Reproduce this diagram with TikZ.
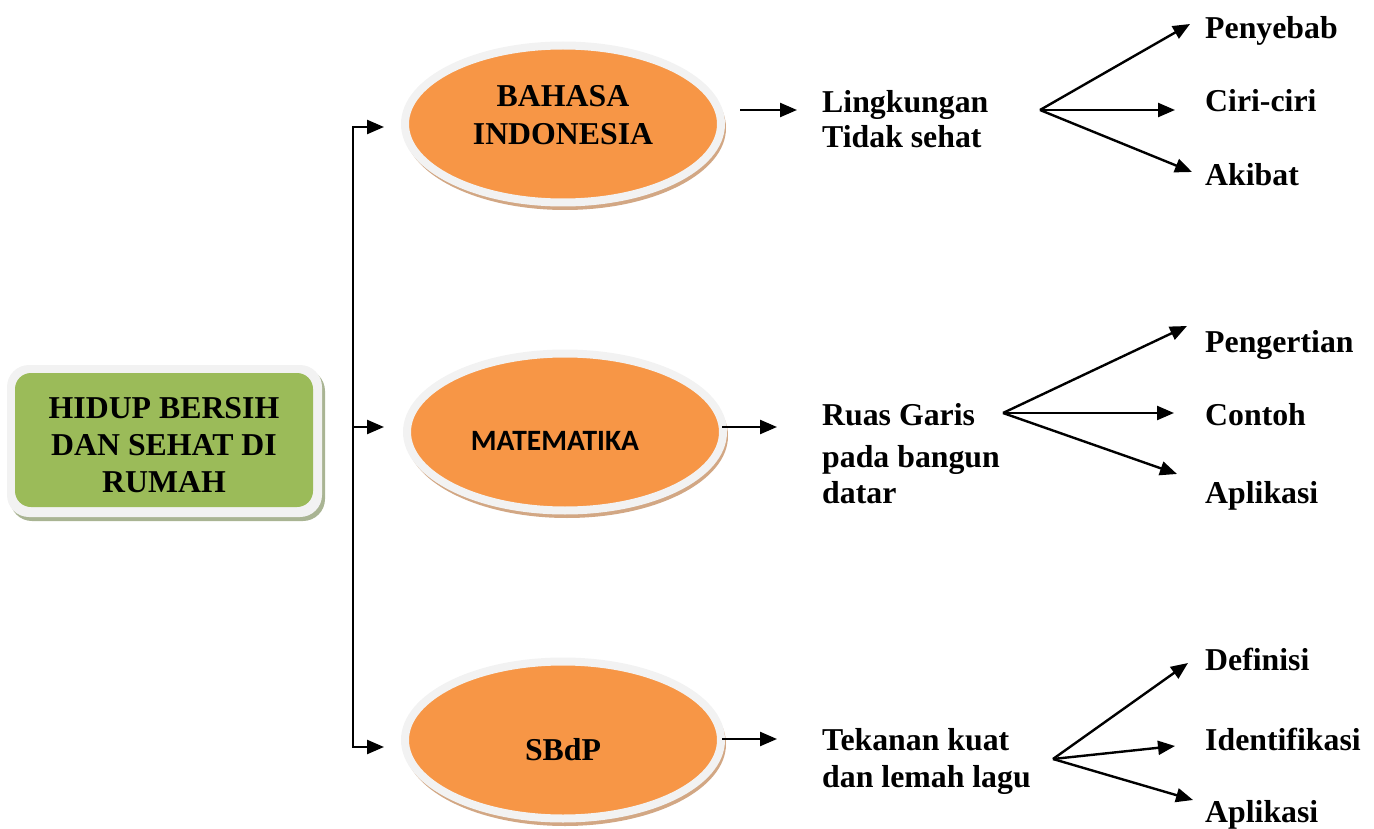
\documentclass[tikz,border=0pt]{standalone}
\usepackage{fontspec}
\setmainfont{Liberation Serif}
\newfontfamily\califont{Carlito}
\usetikzlibrary{arrows.meta,shapes.geometric}
\definecolor{orng}{HTML}{F79646}
\definecolor{ringgrey}{HTML}{F2F2F2}
\definecolor{tanshadow}{HTML}{D2A784}
\definecolor{olive}{HTML}{9BBB59}
\definecolor{boxshadow}{HTML}{A9B493}
\begin{document}
\begin{tikzpicture}[x=1pt,y=-1pt,
  txt/.style={inner sep=0pt, font=\bfseries\fontsize{31.8}{37}\selectfont},
  lbl/.style={txt, anchor=base west},
  arr/.style={line width=2.4pt, -{Triangle[length=17pt,width=14pt]}},
  subj/.style={ellipse, draw=ringgrey, line width=8pt, fill=orng,
    minimum width=316pt, minimum height=157pt, txt}]
\useasboundingbox (0,0) rectangle (1374,829);

% main box
\fill[boxshadow, rounded corners=22pt] (10,369) rectangle (325,521);
\fill[ringgrey, rounded corners=22pt] (7,365) rectangle (322,517);
\node[txt, rectangle, rounded corners=16pt, fill=olive, minimum width=298pt,
  minimum height=134pt, text height=30pt, text depth=74pt] (main) at (164,440)
  {\begin{tabular}[t]{@{}c@{}}HIDUP BERSIH\\DAN SEHAT DI\\RUMAH\end{tabular}};

% subject ellipses
\fill[tanshadow] (565,128) ellipse [x radius=161, y radius=82];
\fill[tanshadow] (567,436) ellipse [x radius=161, y radius=82];
\fill[tanshadow] (565,744) ellipse [x radius=161, y radius=82];
\node[subj, text height=25pt, text depth=59pt] (bi) at (563,124)
  {\begin{tabular}[t]{@{}c@{}}BAHASA\\[1pt]INDONESIA\end{tabular}};
\node[subj, font=\califont\bfseries\fontsize{29.5}{34}\selectfont,
  text height=36pt, text depth=0pt] (ma) at (565,432) {\hspace*{-20pt}MATEMATIKA};
\node[subj, text height=40pt, text depth=0pt] (sb) at (563,740) {SBdP};

% bracket
\coordinate (b2) at (353,427);
\coordinate (a1) at (384,127);
\coordinate (a2) at (384,427);
\coordinate (a3) at (384,747);
\draw[arr] (b2) |- (a1);
\draw[arr] (b2) -- (a2);
\draw[arr] (b2) |- (a3);

% topics
\node[lbl] (lt) at (822,113)
  {\begin{tabular}[t]{@{}l@{}}Lingkungan\\[-2pt]Tidak sehat\end{tabular}};
\node[lbl] (rg) at (822,425)
  {\begin{tabular}[t]{@{}l@{}}Ruas Garis\\[5pt]pada bangun\\[-1pt]datar\end{tabular}};
\node[lbl] (tk) at (822,750)
  {\begin{tabular}[t]{@{}l@{}}Tekanan kuat\\dan lemah lagu\end{tabular}};

\coordinate (e1s) at (740,110);
\coordinate (e1t) at (797,110);
\coordinate (e2s) at (722,427);
\coordinate (e2t) at (777,427);
\coordinate (e3s) at (722,739);
\coordinate (e3t) at (777,739);
\draw[arr] (e1s) -- (e1t);
\draw[arr] (e2s) -- (e2t);
\draw[arr] (e3s) -- (e3t);

% leaves
\node[lbl] (p1) at (1205,39) {Penyebab};
\node[lbl] (p2) at (1205,112) {Ciri-ciri};
\node[lbl] (p3) at (1205,186) {Akibat};
\node[lbl] (q1) at (1205,352) {Pengertian};
\node[lbl] (q2) at (1205,425) {Contoh};
\node[lbl] (q3) at (1205,503) {Aplikasi};
\node[lbl] (r1) at (1205,670) {Definisi};
\node[lbl] (r2) at (1205,750) {Identifikasi};
\node[lbl] (r3) at (1205,822) {Aplikasi};

% fans
\coordinate (f1) at (1040,110);
\coordinate (f1a) at (1190,24);
\coordinate (f1b) at (1175,110);
\coordinate (f1c) at (1192,172);
\coordinate (f2) at (1003,413);
\coordinate (f2a) at (1187,326);
\coordinate (f2b) at (1174,413);
\coordinate (f2c) at (1177,474);
\coordinate (f3) at (1053,759);
\coordinate (f3a) at (1188,663);
\coordinate (f3b) at (1175,746);
\coordinate (f3c) at (1193,800);
\foreach \o/\t in {f1/f1a,f1/f1b,f1/f1c,f2/f2a,f2/f2b,f2/f2c,f3/f3a,f3/f3b,f3/f3c}
  \draw[arr] (\o) -- (\t);
\end{tikzpicture}
\end{document}
